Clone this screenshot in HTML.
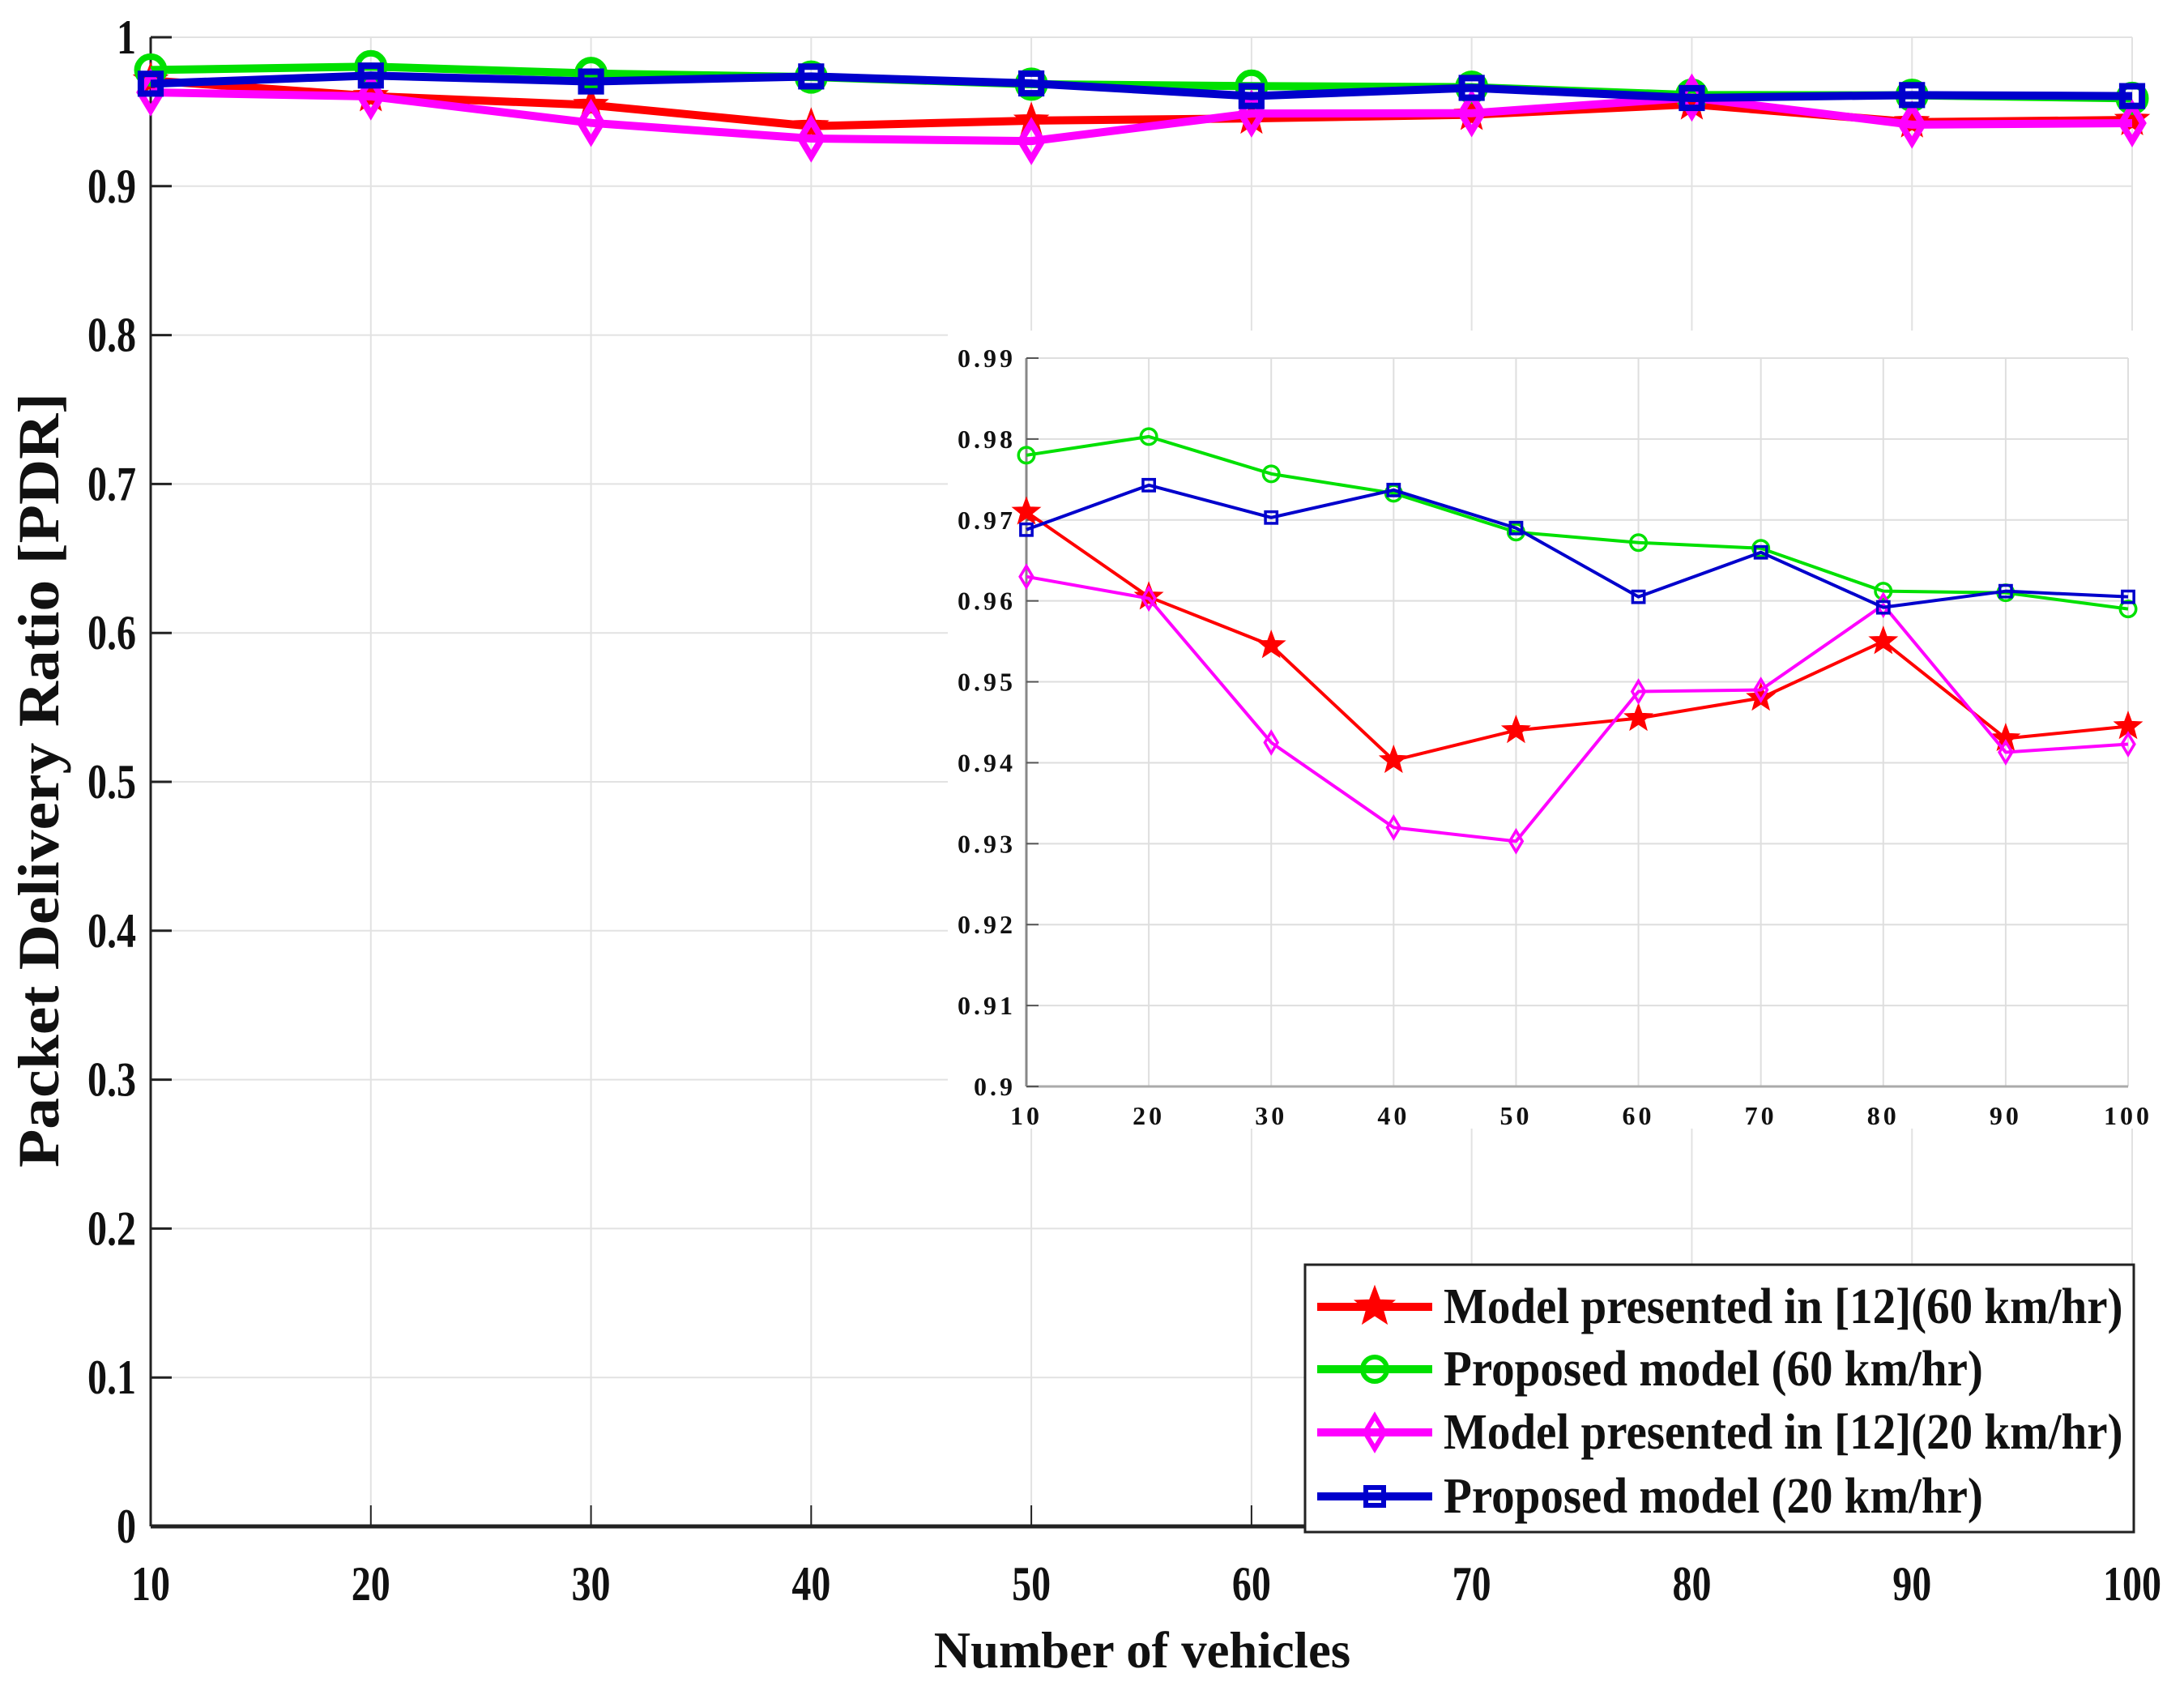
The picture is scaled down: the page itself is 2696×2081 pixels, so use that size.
<!DOCTYPE html>
<html><head><meta charset="utf-8"><style>
html,body{margin:0;padding:0;background:#fff}
svg{display:block}
text{font-family:"Liberation Serif",serif;font-weight:bold;fill:#111}
</style></head><body>
<svg id="chart" width="2696" height="2081" xmlns="http://www.w3.org/2000/svg"></svg>
<script>
const categories=[10,20,30,40,50,60,70,80,90,100];
const redValues=[0.971,0.9605,0.9545,0.9403,0.944,0.9455,0.948,0.955,0.943,0.9445];
const greenValues=[0.978,0.9803,0.9757,0.9733,0.9685,0.9672,0.9665,0.9612,0.961,0.959];
const magentaValues=[0.963,0.9603,0.9425,0.932,0.9303,0.9488,0.949,0.9595,0.9413,0.9423];
const blueValues=[0.9688,0.9743,0.9703,0.9737,0.969,0.9605,0.966,0.9592,0.9612,0.9605];
const mainYTicks=[0,0.1,0.2,0.3,0.4,0.5,0.6,0.7,0.8,0.9,1];
const insetYTicks=[0.9,0.91,0.92,0.93,0.94,0.95,0.96,0.97,0.98,0.99];
const insetYLabels=["0.9","0.91","0.92","0.93","0.94","0.95","0.96","0.97","0.98","0.99"];
const legendLabels=["Model presented in [12](60 km/hr)","Proposed model (60 km/hr)","Model presented in [12](20 km/hr)","Proposed model (20 km/hr)"];

const NS="http://www.w3.org/2000/svg";
const svg=document.getElementById('chart');
function mk(tag,attrs,parent){const e=document.createElementNS(NS,tag);for(const k in attrs)e.setAttribute(k,attrs[k]);(parent||svg).appendChild(e);return e;}

const mx=v=>186+(v-10)/90*(2632-186);
const my=v=>1884-v*(1884-46);
const ix=v=>1267+(v-10)/90*(2627-1267);
const iy=v=>1341-(v-0.9)/0.09*(1341-442);

const series=[
 {name:'red',vals:redValues,color:'#ff0000',marker:'star'},
 {name:'green',vals:greenValues,color:'#00e000',marker:'circle'},
 {name:'magenta',vals:magentaValues,color:'#ff00ff',marker:'diamond'},
 {name:'blue',vals:blueValues,color:'#0000cc',marker:'square'}];

function marker(g,type,x,y,s,color,sw){
  let e;
  if(type==='star'){
    let p=[];for(let i=0;i<10;i++){const r=i%2?s*0.42:s;const a=-Math.PI/2+i*Math.PI/5;p.push((x+r*Math.cos(a)).toFixed(1)+','+(y+r*Math.sin(a)).toFixed(1));}
    e=mk('polygon',{points:p.join(' '),fill:color,stroke:color,'stroke-width':1},g);
  }else if(type==='circle'){
    e=mk('circle',{cx:x,cy:y,r:s*0.75,fill:'none',stroke:color,'stroke-width':sw},g);
  }else if(type==='diamond'){
    e=mk('polygon',{points:`${x},${y-s} ${x+s*0.6},${y} ${x},${y+s} ${x-s*0.6},${y}`,fill:'none',stroke:color,'stroke-width':sw},g);
  }else{
    e=mk('rect',{x:x-s*0.55,y:y-s*0.55,width:s*1.1,height:s*1.1,fill:'none',stroke:color,'stroke-width':sw},g);
  }
  return e;
}

const mg=mk('g',{});


categories.forEach(c=>{mk('line',{x1:mx(c),x2:mx(c),y1:46,y2:1884,stroke:'#e2e2e2','stroke-width':2},mg);});
mainYTicks.forEach(t=>{mk('line',{x1:186,x2:2632,y1:my(t),y2:my(t),stroke:'#e2e2e2','stroke-width':2},mg);});
mk('line',{x1:186,x2:186,y1:46,y2:1884,stroke:'#222','stroke-width':3});
mk('line',{x1:186,x2:2632,y1:1884,y2:1884,stroke:'#222','stroke-width':5});
categories.forEach(c=>{mk('line',{x1:mx(c),x2:mx(c),y1:1884,y2:1858,stroke:'#222','stroke-width':2});});
mainYTicks.forEach(t=>{mk('line',{x1:186,x2:212,y1:my(t),y2:my(t),stroke:'#222','stroke-width':3});});
categories.forEach(c=>{const t=mk('text',{x:mx(c),y:1975,'text-anchor':'middle','font-size':60,transform:`translate(${mx(c)},0) scale(0.8,1) translate(${-mx(c)},0)`});t.textContent=c;

});
mainYTicks.forEach(v=>{const t=mk('text',{x:168,y:my(v)+20,'text-anchor':'end','font-size':60,transform:`translate(168,0) scale(0.8,1) translate(-168,0)`});t.textContent=String(v);

});
let xt=mk('text',{x:1410,y:2058,'text-anchor':'middle','font-size':64,transform:'translate(1410,0) scale(0.98,1) translate(-1410,0)'});xt.textContent='Number of vehicles';


let yt=mk('text',{x:0,y:0,'text-anchor':'middle','font-size':72,transform:'translate(72,963) rotate(-90) scale(1.08,1)'});yt.textContent='Packet Delivery Ratio  [PDR]';



series.forEach(s=>{
  const g=mk('g',{});
  
  
  mk('polyline',{points:s.vals.map((v,i)=>mx(categories[i])+','+my(v)).join(' '),fill:'none',stroke:s.color,'stroke-width':10,'stroke-linejoin':'round'},g);
  s.vals.forEach((v,i)=>{const m=marker(g,s.marker,mx(categories[i]),my(v),22,s.color,8);
    
    });
});

const ig=mk('g',{});


mk('rect',{x:1170,y:408,width:1470,height:985,fill:'#fff'},ig);
categories.forEach(c=>{mk('line',{x1:ix(c),x2:ix(c),y1:442,y2:1341,stroke:'#dedede','stroke-width':2},ig);});
insetYTicks.forEach(t=>{mk('line',{x1:1267,x2:2627,y1:iy(t),y2:iy(t),stroke:'#dedede','stroke-width':2},ig);});
mk('line',{x1:1267,x2:1267,y1:442,y2:1341,stroke:'#888','stroke-width':3},ig);
mk('line',{x1:1267,x2:2627,y1:1341,y2:1341,stroke:'#aaa','stroke-width':3},ig);
insetYTicks.forEach(t=>{mk('line',{x1:1267,x2:1282,y1:iy(t),y2:iy(t),stroke:'#555','stroke-width':2},ig);});
insetYTicks.forEach((v,i)=>{const t=mk('text',{x:1254,y:iy(v)+11,'text-anchor':'end','font-size':32,'letter-spacing':4},ig);t.textContent=insetYLabels[i];

});
categories.forEach(c=>{const t=mk('text',{x:ix(c),y:1388,'text-anchor':'middle','font-size':32,'letter-spacing':4},ig);t.textContent=c;

});
series.forEach(s=>{
  const g=mk('g',{},ig);
  
  
  mk('polyline',{points:s.vals.map((v,i)=>ix(categories[i])+','+iy(v)).join(' '),fill:'none',stroke:s.color,'stroke-width':4,'stroke-linejoin':'round'},g);
  s.vals.forEach((v,i)=>{const m=marker(g,s.marker,ix(categories[i]),iy(v),s.marker==='star'?18:13,s.color,3.5);
    
    });
});

const lg=mk('g',{});


mk('rect',{x:1611,y:1561,width:1023,height:330,fill:'#fff',stroke:'#222','stroke-width':3},lg);
const ly=[1613,1690,1768,1847];
series.forEach((s,i)=>{
  const e=mk('g',{},lg);
  
  
  mk('line',{x1:1626,x2:1768,y1:ly[i],y2:ly[i],stroke:s.color,'stroke-width':10},e);
  marker(e,s.marker,1697,ly[i],s.marker==='star'?26:20,s.color,6);
  const t=mk('text',{x:1782,y:ly[i]+20,'font-size':62,transform:'translate(1782,0) scale(0.92,1) translate(-1782,0)'},e);
  t.textContent=legendLabels[i];
});
</script>
</body></html>
